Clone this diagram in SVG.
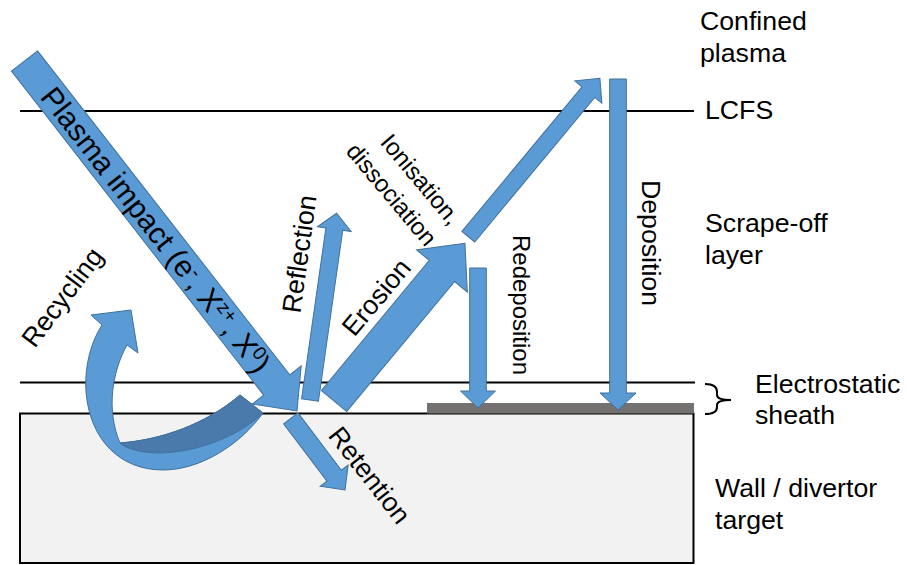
<svg xmlns="http://www.w3.org/2000/svg" width="907" height="565" viewBox="0 0 907 565">
<style>
.t{font-family:"Liberation Sans",Arial,sans-serif;font-size:26.7px;fill:#000}
.arr{fill:#5b9bd5;stroke:#41719c;stroke-width:1}
.dark{fill:#4a7aab;stroke:#41719c;stroke-width:1}
.ln{stroke:#000;stroke-width:2;fill:none}
</style>
<rect width="907" height="565" fill="#fff"/>
<g id="wall">
<rect x="20" y="413.5" width="673.5" height="149.5" fill="#f2f2f2" stroke="#000" stroke-width="2"/>
<rect x="427" y="403" width="267" height="10.5" fill="#767171"/>
</g>
<g id="boundaries">
<line class="ln" x1="20" y1="111" x2="694" y2="111"/>
<line class="ln" x1="20" y1="382.5" x2="695" y2="382.5"/>
<path class="ln" d="M705,384 Q717,384 717,392 L717,395 Q717,400 731,400 Q717,400 717,405 L717,407 Q717,414 705,414"/>
</g>
<g id="connectors">
<g id="recycling-arrow">
<path class="arr" d="M263,413 C240,445 200,470 163,470 C120,470 90,440 86,392 C84,365 92,340 102,325 L91,315 L131,310 L138,353 L127,345 C112,372 106,410 120,443 C160,440 205,425 240,395 Z"/>
<path class="dark" d="M240,395 L263,413 C240,435 200,452 160,453 C140,453 125,448 120,443 C160,440 205,425 240,395 Z"/>
</g>
<g id="plasma-impact-arrow" transform="translate(24.5,61) rotate(52.1)"><polygon class="arr" points="0,-16.5 410.6,-16.5 410.6,-31 443.6,0 410.6,31 410.6,16.5 0,16.5"/></g>
<g id="retention-arrow" transform="translate(290.8,418.3) rotate(52.9)"><polygon class="arr" points="0,-9 71.9,-9 71.9,-17.5 89.9,0 71.9,17.5 71.9,9 0,9"/></g>
<g id="reflection-arrow" transform="translate(310,400) rotate(-81.9)"><polygon class="arr" points="0,-8.5 172.6,-8.5 172.6,-17 188.6,0 172.6,17 172.6,8.5 0,8.5"/></g>
<g id="erosion-arrow" transform="translate(334,401) rotate(-50.3)"><polygon class="arr" points="0,-16.5 169,-16.5 169,-33 205,0 169,33 169,16.5 0,16.5"/></g>
<g id="ionisation-arrow" transform="translate(468.3,236.7) rotate(-50.3)"><polygon class="arr" points="0,-8.3 188,-8.3 188,-17.5 206,0 188,17.5 188,8.3 0,8.3"/></g>
<g id="redeposition-arrow" transform="translate(478,268) rotate(90)"><polygon class="arr" points="0,-8.3 123,-8.3 123,-17.5 140,0 123,17.5 123,8.3 0,8.3"/></g>
<g id="deposition-arrow" transform="translate(618,79) rotate(90)"><polygon class="arr" points="0,-8.3 314,-8.3 314,-18 331,0 314,18 314,8.3 0,8.3"/></g>
</g>
<g id="label-plasma-impact" transform="translate(24.5,61) rotate(52.1)"><text class="t" x="214" y="10.5" text-anchor="middle" style="font-size:30px">Plasma impact (e<tspan baseline-shift="super" font-size="19">-</tspan>, X<tspan baseline-shift="super" font-size="19">z+</tspan>, X<tspan baseline-shift="super" font-size="19">0</tspan>)</text></g>
<g id="label-recycling" transform="translate(62,297) rotate(-53)"><text class="t" x="0" y="9.5" text-anchor="middle">Recycling</text></g>
<g id="label-reflection" transform="translate(299,254) rotate(-82)"><text class="t" x="0" y="9.5" text-anchor="middle">Reflection</text></g>
<g id="label-erosion" transform="translate(376,297) rotate(-50)"><text class="t" x="0" y="9.5" text-anchor="middle">Erosion</text></g>
<g id="label-ionisation">
<g transform="translate(420.8,179.2) rotate(50)"><text class="t" x="0" y="8.5" text-anchor="middle" style="font-size:24px">Ionisation,</text></g>
<g transform="translate(391.7,194.2) rotate(50)"><text class="t" x="0" y="8.5" text-anchor="middle" style="font-size:24px">dissociation</text></g>
</g>
<g id="label-redeposition" transform="translate(521,305) rotate(90)"><text class="t" x="0" y="8.5" text-anchor="middle" style="font-size:24px">Redeposition</text></g>
<g id="label-deposition" transform="translate(651,243) rotate(90)"><text class="t" x="0" y="9.5" text-anchor="middle">Deposition</text></g>
<g id="label-retention" transform="translate(370,475) rotate(52)"><text class="t" x="0" y="9.5" text-anchor="middle">Retention</text></g>
<g id="label-confined"><text class="t" x="700" y="29.5">Confined</text><text class="t" x="700" y="62">plasma</text></g>
<g id="label-lcfs"><text class="t" x="705" y="119">LCFS</text></g>
<g id="label-sol"><text class="t" x="705" y="231.7">Scrape-off</text><text class="t" x="705" y="264">layer</text></g>
<g id="label-sheath"><text class="t" x="755" y="393">Electrostatic</text><text class="t" x="755" y="424">sheath</text></g>
<g id="label-wall"><text class="t" x="715" y="497">Wall / divertor</text><text class="t" x="715" y="529">target</text></g>
</svg>
